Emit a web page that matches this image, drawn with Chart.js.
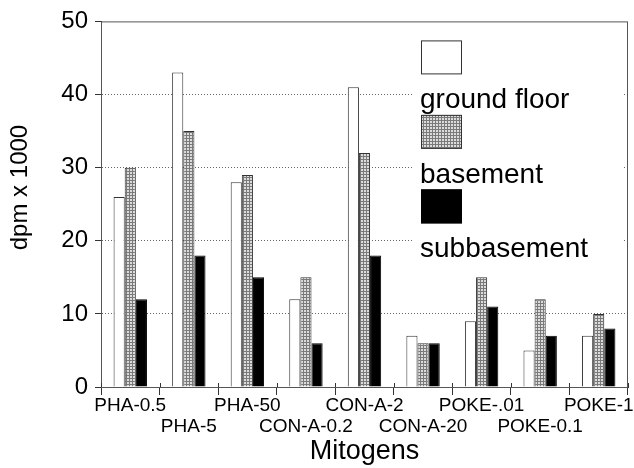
<!DOCTYPE html>
<html>
<head>
<meta charset="utf-8">
<script src="https://cdn.jsdelivr.net/npm/chart.js@4"></script>
<style>
  html, body { margin: 0; padding: 0; background: #fff; }
  #wrap { width: 634px; height: 468px; }
</style>
</head>
<body>
<div id="wrap"><canvas id="c" width="634" height="468"></canvas></div>
<script>
const categories = ['PHA-0.5','PHA-5','PHA-50','CON-A-0.2','CON-A-2','CON-A-20','POKE-.01','POKE-0.1','POKE-1'];
const groundFloor = [26, 43, 28, 12, 41, 7, 9, 5, 7];
const basement    = [30, 35, 29, 15, 32, 6, 15, 12, 10];
const subbasement = [12, 18, 15, 6, 18, 6, 11, 7, 8];
const seriesNames = ['ground floor', 'basement', 'subbasement'];
const yTicks = [0, 10, 20, 30, 40, 50];

const FONT = "'Liberation Sans', Arial, sans-serif";

function makePattern() {
  const p = document.createElement('canvas');
  p.width = 3; p.height = 3;
  const g = p.getContext('2d');
  g.fillStyle = '#dcdcdc';
  g.fillRect(0, 0, 3, 3);
  g.fillStyle = '#7a7a7a';
  g.fillRect(0, 0, 3, 1);
  g.fillRect(0, 0, 1, 3);
  return g.createPattern(p, 'repeat');
}
const grayPattern = makePattern();

const frame = {
  id: 'frame',
  afterDraw(chart) {
    const a = chart.chartArea, ctx = chart.ctx;
    ctx.save();
    ctx.setLineDash([]);
    ctx.strokeStyle = '#555';
    ctx.lineWidth = 1;
    ctx.strokeRect(a.left + 0.5, a.top + 0.5, a.right - a.left - 1, a.bottom - a.top);
    const xs = chart.scales.x;
    ctx.strokeStyle = '#333';
    ctx.beginPath();
    for (let i = 0; i <= categories.length; i++) {
      const px = Math.round(xs.getPixelForValue(i - 0.5)) + 0.5;
      ctx.moveTo(px, a.bottom);
      ctx.lineTo(px, a.bottom - 4);
    }
    ctx.stroke();
    ctx.restore();
  }
};

const stackedLegend = {
  id: 'stackedLegend',
  afterDatasetsDraw(chart) {
    const a = chart.chartArea, ctx = chart.ctx;
    const x0 = a.left + 320, y0 = a.top + 19;
    const step = 74.5, bw = 41, bh = 34;
    ctx.save();
    ctx.setLineDash([]);
    ctx.fillStyle = '#fff';
    ctx.fillRect(x0 - 9, a.top + 8, 210, 3 * step + 6);
    chart.data.datasets.forEach((ds, i) => {
      const y = y0 + i * step;
      ctx.fillStyle = ds.backgroundColor;
      ctx.fillRect(x0, y, bw, bh);
      ctx.strokeStyle = ds.borderColor;
      ctx.lineWidth = 1;
      ctx.strokeRect(x0 + 0.5, y + 0.5, bw - 1, bh - 1);
      ctx.fillStyle = '#000';
      ctx.font = '28px ' + FONT;
      ctx.textBaseline = 'alphabetic';
      ctx.textAlign = 'left';
      ctx.fillText(ds.label, x0 - 1, y + 68);
    });
    ctx.restore();
  }
};

new Chart(document.getElementById('c'), {
  type: 'bar',
  data: {
    labels: categories,
    datasets: [
      { label: seriesNames[0], data: groundFloor, backgroundColor: '#ffffff', borderColor: '#333', borderWidth: 1, borderSkipped: 'bottom' },
      { label: seriesNames[1], data: basement, backgroundColor: grayPattern, borderColor: '#333', borderWidth: 1, borderSkipped: 'bottom' },
      { label: seriesNames[2], data: subbasement, backgroundColor: '#000000', borderColor: '#000', borderWidth: 1, borderSkipped: 'bottom' }
    ]
  },
  options: {
    responsive: false,
    animation: false,
    devicePixelRatio: 1,
    layout: { padding: { top: 20, right: 6, left: 0, bottom: 0 } },
    datasets: { bar: { categoryPercentage: 0.57, barPercentage: 1.0 } },
    plugins: { legend: { display: false }, tooltip: { enabled: false } },
    scales: {
      x: {
        grid: { offset: true, drawOnChartArea: false, tickLength: 8, color: '#333', tickColor: '#333' },
        border: { display: true, color: '#333' },
        ticks: {
          autoSkip: false, maxRotation: 0, minRotation: 0, padding: 0, color: '#000',
          font: { family: FONT, size: 19, lineHeight: 1.1 },
          callback: function (v, i) { return i % 2 === 0 ? [categories[i], ''] : ['', categories[i]]; }
        },
        title: { display: true, text: 'Mitogens', color: '#000', font: { family: FONT, size: 27 }, padding: { top: 0, bottom: 0 } },
        afterFit(s) { s.height = 81; }
      },
      y: {
        min: 0, max: 50,
        afterBuildTicks(s) { s.ticks = yTicks.map(v => ({ value: v })); },
        grid: {
          tickLength: 6,
          color: ctx => (ctx.tick && (ctx.tick.value === 0 || ctx.tick.value === 50)) ? 'rgba(0,0,0,0)' : '#666',
          tickColor: '#333',
          tickBorderDash: [],
        },
        border: { display: true, color: '#333', dash: [1, 2] },
        ticks: { padding: 7, color: '#000', font: { family: FONT, size: 24 } },
        title: { display: true, text: '     dpm x 1000', color: '#000', font: { family: FONT, size: 24 }, padding: { top: 6, bottom: 0 } },
        afterFit(s) { s.width = 101; }
      }
    }
  },
  plugins: [frame, stackedLegend]
});
</script>
</body>
</html>
